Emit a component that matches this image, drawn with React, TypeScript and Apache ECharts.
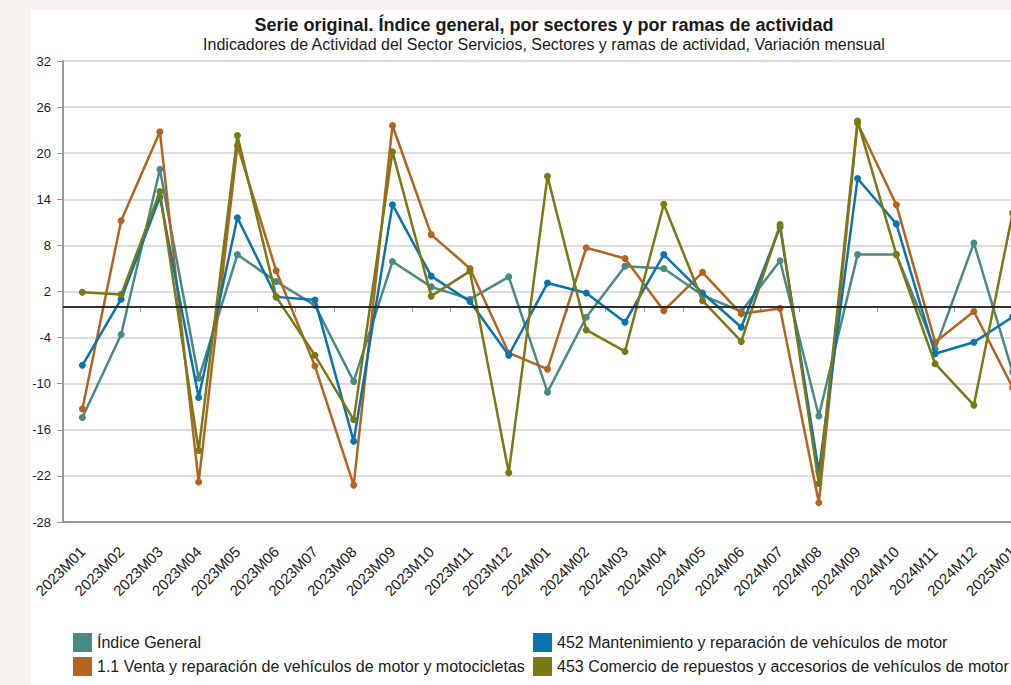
import React, { useEffect, useRef } from "react";
import * as echarts from "echarts";

const categories = [
  "2023M01", "2023M02", "2023M03", "2023M04", "2023M05", "2023M06", "2023M07", "2023M08",
  "2023M09", "2023M10", "2023M11", "2023M12", "2024M01", "2024M02", "2024M03", "2024M04",
  "2024M05", "2024M06", "2024M07", "2024M08", "2024M09", "2024M10", "2024M11", "2024M12", "2025M01",
];

const indiceGeneral = [-14.4, -3.6, 17.9, -9.3, 6.8, 3.3, 0.2, -9.7, 5.9, 2.6, 1.0, 3.9, -11.1, -1.35, 5.3, 5.0, 1.5, -0.6, 6.0, -14.2, 6.8, 6.8, -5.5, 8.3, -8.5];
const ventaReparacion = [-13.3, 11.2, 22.8, -22.8, 21.0, 4.7, -7.7, -23.2, 23.6, 9.4, 5.0, -6.0, -8.1, 7.7, 6.3, -0.5, 4.5, -0.9, -0.2, -25.5, 23.9, 13.3, -4.6, -0.6, -10.5];
const mantenimiento = [-7.6, 1.0, 14.3, -11.8, 11.6, 1.3, 0.9, -17.5, 13.3, 4.0, 0.7, -6.3, 3.1, 1.8, -2.0, 6.8, 1.8, -2.65, 10.4, -21.5, 16.7, 10.8, -6.1, -4.6, -1.3];
const comercioRepuestos = [1.9, 1.6, 15.0, -18.7, 22.3, 1.3, -6.3, -14.7, 20.2, 1.4, 4.65, -21.6, 17.0, -3.0, -5.8, 13.35, 0.8, -4.5, 10.7, -23.0, 24.2, 6.8, -7.4, -12.8, 12.2];

const seriesNames = [
  "Índice General",
  "1.1 Venta y reparación de vehículos de motor y motocicletas",
  "452 Mantenimiento y reparación de vehículos de motor",
  "453 Comercio de repuestos y accesorios de vehículos de motor",
];
const seriesColors = ["#4a8a85", "#b4641e", "#0b73ad", "#7a7914"];

const Y_MIN = -28;
const Y_MAX = 32;
const Y_STEP = 6;

const TITLE = "Serie original. Índice general, por sectores y por ramas de actividad";
const SUBTITLE = "Indicadores de Actividad del Sector Servicios, Sectores y ramas de actividad, Variación mensual";

const FONT = "'Liberation Sans', Arial, Helvetica, sans-serif";

export default function App() {
  const ref = useRef<HTMLDivElement>(null);

  useEffect(() => {
    if (!ref.current) return;
    const chart = echarts.init(ref.current, null, { renderer: "svg" });
    const values = [indiceGeneral, ventaReparacion, mantenimiento, comercioRepuestos];

    const series: any[] = values.map((d, i) => ({
      type: "line",
      name: seriesNames[i],
      data: d,
      xAxisIndex: 0,
      yAxisIndex: 0,
      symbol: "circle",
      symbolSize: 7,
      lineStyle: { width: 2.5, color: seriesColors[i] },
      itemStyle: { color: seriesColors[i] },
      z: 3 + i,
    }));
    series[0].markLine = {
      silent: true,
      symbol: "none",
      label: { show: false },
      lineStyle: { color: "#111", width: 1.5, type: "solid" },
      data: [{ yAxis: 0 }],
      z: 10,
    };

    const legendCommon = {
      orient: "vertical",
      top: 633,
      padding: 0,
      itemWidth: 19,
      itemHeight: 19,
      itemGap: 5,
      icon: "rect",
      textStyle: { fontFamily: FONT, fontSize: 16, color: "#1a1a1a" },
    };

    chart.setOption({
      animation: false,
      backgroundColor: "transparent",
      textStyle: { fontFamily: FONT },
      title: {
        text: TITLE,
        subtext: SUBTITLE,
        left: 539,
        top: 11,
        textAlign: "center",
        itemGap: 2,
        textStyle: { fontFamily: FONT, fontSize: 18, fontWeight: "bold", color: "#1a1a1a" },
        subtextStyle: { fontFamily: FONT, fontSize: 16, color: "#1a1a1a" },
      },
      legend: [
        { ...legendCommon, data: [seriesNames[0], seriesNames[1]], left: 73 },
        { ...legendCommon, data: [seriesNames[2], seriesNames[3]], left: 533 },
      ],
      grid: { left: 63, top: 61, right: 18, bottom: 163, containLabel: false },
      xAxis: [
        {
          type: "category",
          data: categories,
          position: "bottom",
          boundaryGap: true,
          axisLine: { lineStyle: { color: "#999", width: 2 } },
          axisTick: { show: true, interval: 0, length: 5, lineStyle: { color: "#999" } },
          axisLabel: {
            interval: 0,
            rotate: 45,
            margin: 27,
            fontSize: 15,
            color: "#1a1a1a",
            fontFamily: FONT,
          },
          splitLine: { show: false },
        },
        {
          type: "category",
          data: categories,
          position: "top",
          axisLine: { lineStyle: { color: "#999", width: 2 } },
          axisTick: { show: false },
          axisLabel: { show: false },
          splitLine: { show: false },
        },
      ],
      yAxis: [
        {
          type: "value",
          min: Y_MIN,
          max: Y_MAX,
          show: false,
          position: "left",
          splitLine: { show: false },
        },
        {
          type: "value",
          min: 0,
          max: Y_MAX - Y_MIN,
          interval: Y_STEP,
          position: "left",
          axisLine: { show: true, lineStyle: { color: "#999", width: 2 } },
          axisTick: { show: true, length: 6, lineStyle: { color: "#999" } },
          axisLabel: {
            margin: 12,
            fontSize: 13,
            color: "#1a1a1a",
            fontFamily: FONT,
            formatter: (v: number) => String(Math.round(v + Y_MIN)),
          },
          splitLine: { show: true, lineStyle: { color: "#d2d2d2", width: 1.5 } },
        },
      ],
      series,
    });

    return () => chart.dispose();
  }, []);

  return (
    <div style={{ position: "fixed", left: 0, top: 0, width: 1011, height: 685, background: "#f5f2ef", overflow: "hidden" }}>
      <div style={{ position: "absolute", left: 31, top: 10, width: 1020, height: 675, background: "#ffffff" }} />
      <div ref={ref} style={{ position: "absolute", left: 0, top: 0, width: 1050, height: 685 }} />
    </div>
  );
}
